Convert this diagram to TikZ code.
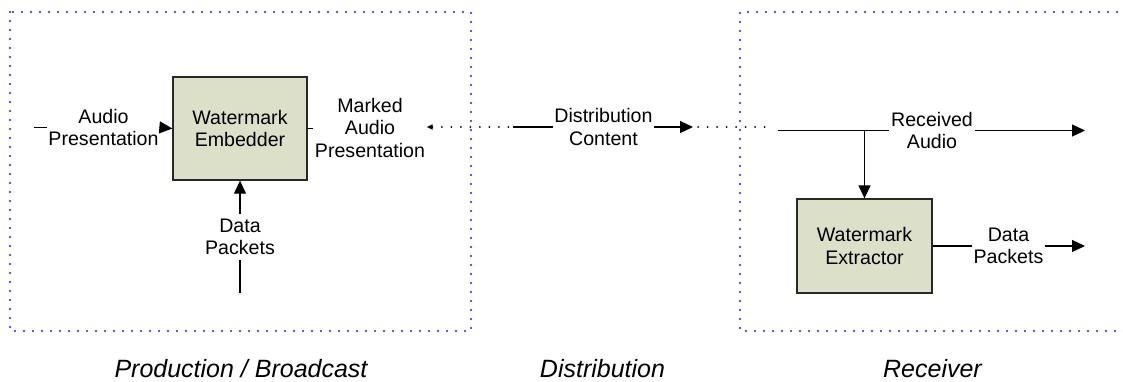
\documentclass[tikz,border=0pt]{standalone}
\usepackage{fontspec}
\setmainfont{Liberation Sans}
\usetikzlibrary{arrows.meta,calc}
\definecolor{boxfill}{RGB}{220,224,200}
\definecolor{boxdraw}{RGB}{40,40,40}
\definecolor{zoneblue}{RGB}{30,30,255}
\tikzset{
  proc/.style={draw=boxdraw, fill=boxfill, line width=1.3pt, align=center, inner sep=0pt,
    font=\fontsize{19.6}{22.5}\selectfont},
  lbl/.style={align=center, inner xsep=1.5pt, inner ysep=5pt, font=\fontsize{19.6}{22.5}\selectfont},
  zone/.style={draw=zoneblue, line width=2.1pt, dash pattern=on 0pt off 9pt, line cap=round},
  conn/.style={line width=1.2pt},
  dotconn/.style={line width=2pt, dash pattern=on 0pt off 9.5pt, line cap=round},
  tip/.style={-{Triangle[length=13pt,width=12pt]}},
  zonelbl/.style={font=\fontsize{25}{30}\selectfont\itshape, anchor=base}
}
\begin{document}
\begin{tikzpicture}[x=1pt,y=-1pt]
\useasboundingbox (0,0) rectangle (1123,381);
% zones
\draw[zone] (10,12) rectangle (471,331);
\draw[zone] (1135,12) -- (740,12) -- (740,331) -- (1135,331);
% process boxes
\node[proc, minimum width=134pt, minimum height=103pt] (emb) at (240,128.5) {Watermark\\Embedder};
\node[proc, minimum width=135pt, minimum height=94pt] (ext) at (864.5,246) {Watermark\\Extractor};
% labels
\node[lbl] (audioin) at (103.5,127.5) {Audio\\Presentation};
\node[lbl] (marked) at (370,127.5) {Marked\\Audio\\Presentation};
\node[lbl] (dist) at (603.5,127) {Distribution\\Content};
\node[lbl] (recv) at (932,130.5) {Received\\Audio};
\node[lbl] (dpin) at (240,237) {Data\\Packets};
\node[lbl] (dpout) at (1008.5,246) {Data\\Packets};
% coordinates
\coordinate (ain) at (34,127.5);
\coordinate (dstart) at (513,127);
\coordinate (dotstart) at (510,127);
\coordinate (dend) at (693,127);
\coordinate (dotbeg) at (698,127);
\coordinate (dotend) at (770,127);
\coordinate (rstart) at (778,130.5);
\coordinate (br) at (864.5,130.5);
\coordinate (rout) at (1085,130.5);
\coordinate (dpend) at (1085,246);
\coordinate (dpsrc) at (240,293);
% connectors
\draw[conn] (ain) -- (audioin.west);
\draw[conn, tip] (audioin.east) -- (emb.west);
\draw[conn] (emb.east) -- (emb.east -| marked.west);
\draw[dotconn, {Triangle[length=6pt,width=5pt]}-] (marked.east |- dstart) -- (dotstart);
\draw[conn] (dstart) -- (dist.west |- dstart);
\draw[conn, tip] (dist.east |- dend) -- (dend);
\draw[dotconn] (dotbeg) -- (dotend);
\draw[conn] (rstart) -- (recv.west);
\draw[conn, tip] (recv.east) -- (rout);
\draw[conn, tip] (br) -- (ext.north);
\draw[conn] (ext.east) -- (dpout.west);
\draw[conn, tip] (dpout.east) -- (dpend);
\draw[conn] (dpsrc) -- (dpin.south);
\draw[conn, tip] (dpin.north) -- (emb.south);
% zone titles
\node[zonelbl] (zprod) at (241,377) {Production / Broadcast};
\node[zonelbl] (zdist) at (602.5,377) {Distribution};
\node[zonelbl] (zrecv) at (932.5,377) {Receiver};
\end{tikzpicture}
\end{document}
